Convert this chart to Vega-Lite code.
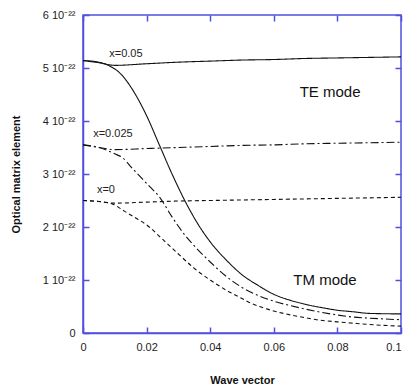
{
  "$schema": "https://vega.github.io/schema/vega-lite/v6.json",
  "width": 318,
  "height": 318,
  "autosize": "none",
  "padding": {"left": 83, "top": 15, "right": 6, "bottom": 58},
  "background": "white",
  "config": {
    "font": "Liberation Sans",
    "view": {"stroke": "#5050e0", "strokeWidth": 1.5},
    "axis": {
      "grid": false,
      "domainColor": "#5050e0",
      "domainWidth": 1.5,
      "tickColor": "#5050e0",
      "tickWidth": 1.5,
      "tickSize": -6,
      "labelFont": "Liberation Sans",
      "labelFontSize": 11,
      "labelColor": "#222",
      "labelPadding": 14,
      "titleFont": "Liberation Sans",
      "titleFontSize": 11,
      "titleFontWeight": "bold",
      "titleColor": "#111"
    }
  },
  "datasets": {
    "curves": [
      {"curve": "TE 0.05", "x": "0.05", "k": 0, "v": 5.14},
      {"curve": "TE 0.05", "x": "0.05", "k": 0.005, "v": 5.1},
      {"curve": "TE 0.05", "x": "0.05", "k": 0.01, "v": 5.05},
      {"curve": "TE 0.05", "x": "0.05", "k": 0.02, "v": 5.08},
      {"curve": "TE 0.05", "x": "0.05", "k": 0.03, "v": 5.11},
      {"curve": "TE 0.05", "x": "0.05", "k": 0.04, "v": 5.13},
      {"curve": "TE 0.05", "x": "0.05", "k": 0.05, "v": 5.15},
      {"curve": "TE 0.05", "x": "0.05", "k": 0.06, "v": 5.16},
      {"curve": "TE 0.05", "x": "0.05", "k": 0.07, "v": 5.18},
      {"curve": "TE 0.05", "x": "0.05", "k": 0.08, "v": 5.19},
      {"curve": "TE 0.05", "x": "0.05", "k": 0.09, "v": 5.2},
      {"curve": "TE 0.05", "x": "0.05", "k": 0.1, "v": 5.21},

      {"curve": "TM 0.05", "x": "0.05", "k": 0, "v": 5.14},
      {"curve": "TM 0.05", "x": "0.05", "k": 0.004, "v": 5.12},
      {"curve": "TM 0.05", "x": "0.05", "k": 0.008, "v": 5.05},
      {"curve": "TM 0.05", "x": "0.05", "k": 0.012, "v": 4.88},
      {"curve": "TM 0.05", "x": "0.05", "k": 0.016, "v": 4.55},
      {"curve": "TM 0.05", "x": "0.05", "k": 0.02, "v": 4.1},
      {"curve": "TM 0.05", "x": "0.05", "k": 0.024, "v": 3.55},
      {"curve": "TM 0.05", "x": "0.05", "k": 0.028, "v": 3.0},
      {"curve": "TM 0.05", "x": "0.05", "k": 0.032, "v": 2.5},
      {"curve": "TM 0.05", "x": "0.05", "k": 0.036, "v": 2.07},
      {"curve": "TM 0.05", "x": "0.05", "k": 0.04, "v": 1.72},
      {"curve": "TM 0.05", "x": "0.05", "k": 0.045, "v": 1.38},
      {"curve": "TM 0.05", "x": "0.05", "k": 0.05, "v": 1.1},
      {"curve": "TM 0.05", "x": "0.05", "k": 0.055, "v": 0.9},
      {"curve": "TM 0.05", "x": "0.05", "k": 0.06, "v": 0.73},
      {"curve": "TM 0.05", "x": "0.05", "k": 0.065, "v": 0.62},
      {"curve": "TM 0.05", "x": "0.05", "k": 0.07, "v": 0.54},
      {"curve": "TM 0.05", "x": "0.05", "k": 0.075, "v": 0.48},
      {"curve": "TM 0.05", "x": "0.05", "k": 0.08, "v": 0.43},
      {"curve": "TM 0.05", "x": "0.05", "k": 0.085, "v": 0.4},
      {"curve": "TM 0.05", "x": "0.05", "k": 0.09, "v": 0.37},
      {"curve": "TM 0.05", "x": "0.05", "k": 0.1, "v": 0.36},

      {"curve": "TE 0.025", "x": "0.025", "k": 0, "v": 3.55},
      {"curve": "TE 0.025", "x": "0.025", "k": 0.005, "v": 3.5},
      {"curve": "TE 0.025", "x": "0.025", "k": 0.01, "v": 3.46},
      {"curve": "TE 0.025", "x": "0.025", "k": 0.02, "v": 3.48},
      {"curve": "TE 0.025", "x": "0.025", "k": 0.03, "v": 3.5},
      {"curve": "TE 0.025", "x": "0.025", "k": 0.04, "v": 3.52},
      {"curve": "TE 0.025", "x": "0.025", "k": 0.05, "v": 3.54},
      {"curve": "TE 0.025", "x": "0.025", "k": 0.06, "v": 3.55},
      {"curve": "TE 0.025", "x": "0.025", "k": 0.07, "v": 3.57},
      {"curve": "TE 0.025", "x": "0.025", "k": 0.08, "v": 3.58},
      {"curve": "TE 0.025", "x": "0.025", "k": 0.09, "v": 3.59},
      {"curve": "TE 0.025", "x": "0.025", "k": 0.1, "v": 3.6},

      {"curve": "TM 0.025", "x": "0.025", "k": 0, "v": 3.55},
      {"curve": "TM 0.025", "x": "0.025", "k": 0.005, "v": 3.5},
      {"curve": "TM 0.025", "x": "0.025", "k": 0.01, "v": 3.38},
      {"curve": "TM 0.025", "x": "0.025", "k": 0.0126, "v": 3.3},
      {"curve": "TM 0.025", "x": "0.025", "k": 0.015, "v": 3.14},
      {"curve": "TM 0.025", "x": "0.025", "k": 0.018, "v": 2.95},
      {"curve": "TM 0.025", "x": "0.025", "k": 0.021, "v": 2.76},
      {"curve": "TM 0.025", "x": "0.025", "k": 0.024, "v": 2.57},
      {"curve": "TM 0.025", "x": "0.025", "k": 0.028, "v": 2.19},
      {"curve": "TM 0.025", "x": "0.025", "k": 0.032, "v": 1.85},
      {"curve": "TM 0.025", "x": "0.025", "k": 0.036, "v": 1.58},
      {"curve": "TM 0.025", "x": "0.025", "k": 0.04, "v": 1.34},
      {"curve": "TM 0.025", "x": "0.025", "k": 0.045, "v": 1.07},
      {"curve": "TM 0.025", "x": "0.025", "k": 0.05, "v": 0.86},
      {"curve": "TM 0.025", "x": "0.025", "k": 0.055, "v": 0.71},
      {"curve": "TM 0.025", "x": "0.025", "k": 0.06, "v": 0.6},
      {"curve": "TM 0.025", "x": "0.025", "k": 0.065, "v": 0.52},
      {"curve": "TM 0.025", "x": "0.025", "k": 0.07, "v": 0.45},
      {"curve": "TM 0.025", "x": "0.025", "k": 0.075, "v": 0.39},
      {"curve": "TM 0.025", "x": "0.025", "k": 0.08, "v": 0.34},
      {"curve": "TM 0.025", "x": "0.025", "k": 0.085, "v": 0.3},
      {"curve": "TM 0.025", "x": "0.025", "k": 0.09, "v": 0.28},
      {"curve": "TM 0.025", "x": "0.025", "k": 0.1, "v": 0.25},

      {"curve": "TE 0", "x": "0", "k": 0, "v": 2.5},
      {"curve": "TE 0", "x": "0", "k": 0.005, "v": 2.48},
      {"curve": "TE 0", "x": "0", "k": 0.01, "v": 2.45},
      {"curve": "TE 0", "x": "0", "k": 0.02, "v": 2.47},
      {"curve": "TE 0", "x": "0", "k": 0.03, "v": 2.49},
      {"curve": "TE 0", "x": "0", "k": 0.04, "v": 2.5},
      {"curve": "TE 0", "x": "0", "k": 0.05, "v": 2.51},
      {"curve": "TE 0", "x": "0", "k": 0.06, "v": 2.52},
      {"curve": "TE 0", "x": "0", "k": 0.07, "v": 2.53},
      {"curve": "TE 0", "x": "0", "k": 0.08, "v": 2.54},
      {"curve": "TE 0", "x": "0", "k": 0.09, "v": 2.55},
      {"curve": "TE 0", "x": "0", "k": 0.1, "v": 2.56},

      {"curve": "TM 0", "x": "0", "k": 0, "v": 2.5},
      {"curve": "TM 0", "x": "0", "k": 0.005, "v": 2.48},
      {"curve": "TM 0", "x": "0", "k": 0.0094, "v": 2.43},
      {"curve": "TM 0", "x": "0", "k": 0.013, "v": 2.3},
      {"curve": "TM 0", "x": "0", "k": 0.016, "v": 2.19},
      {"curve": "TM 0", "x": "0", "k": 0.02, "v": 2.04},
      {"curve": "TM 0", "x": "0", "k": 0.025, "v": 1.77},
      {"curve": "TM 0", "x": "0", "k": 0.03, "v": 1.49},
      {"curve": "TM 0", "x": "0", "k": 0.035, "v": 1.22},
      {"curve": "TM 0", "x": "0", "k": 0.04, "v": 1.0},
      {"curve": "TM 0", "x": "0", "k": 0.045, "v": 0.81},
      {"curve": "TM 0", "x": "0", "k": 0.05, "v": 0.65},
      {"curve": "TM 0", "x": "0", "k": 0.0525, "v": 0.57},
      {"curve": "TM 0", "x": "0", "k": 0.058, "v": 0.45},
      {"curve": "TM 0", "x": "0", "k": 0.063, "v": 0.37},
      {"curve": "TM 0", "x": "0", "k": 0.068, "v": 0.31},
      {"curve": "TM 0", "x": "0", "k": 0.0735, "v": 0.25},
      {"curve": "TM 0", "x": "0", "k": 0.08, "v": 0.21},
      {"curve": "TM 0", "x": "0", "k": 0.084, "v": 0.19},
      {"curve": "TM 0", "x": "0", "k": 0.09, "v": 0.16},
      {"curve": "TM 0", "x": "0", "k": 0.1, "v": 0.13}
    ],
    "curveLabels": [
      {"k": 0.0135, "v": 5.26, "text": "x=0.05"},
      {"k": 0.0094, "v": 3.75, "text": "x=0.025"},
      {"k": 0.0072, "v": 2.7, "text": "x=0"}
    ],
    "modeLabels": [
      {"k": 0.0777, "v": 4.55, "text": "TE mode"},
      {"k": 0.0761, "v": 1.0, "text": "TM mode"}
    ]
  },
  "layer": [
    {
      "data": {"name": "curves"},
      "mark": {"type": "line", "color": "#111", "strokeWidth": 1.1, "clip": true, "interpolate": "monotone"},
      "encoding": {
        "x": {
          "field": "k", "type": "quantitative",
          "scale": {"domain": [0, 0.1], "nice": false, "zero": false},
          "axis": {
            "orient": "bottom", "title": "Wave vector",
            "values": [0, 0.02, 0.04, 0.06, 0.08, 0.1],
            "labelExpr": "format(datum.value, '~g')",
            "labelAlign": {"condition": {"test": "datum.value >= 0.1", "value": "right"}, "value": "center"},
            "titlePadding": 22,
            "labelFlush": false
          }
        },
        "y": {
          "field": "v", "type": "quantitative",
          "scale": {"domain": [0, 6], "nice": false},
          "axis": {
            "orient": "left", "title": "Optical matrix element",
            "values": [0, 1, 2, 3, 4, 5, 6],
            "labelExpr": "datum.value == 0 ? '0' : datum.value + ' 10⁻²²'",
            "titlePadding": 21
          }
        },
        "detail": {"field": "curve"},
        "strokeDash": {
          "field": "x", "type": "nominal",
          "scale": {"domain": ["0.05", "0.025", "0"], "range": [[1, 0], [8, 3, 2, 3], [4, 3]]},
          "legend": null
        }
      }
    },
    {
      "data": {"name": "modeLabels"},
      "mark": {"type": "text", "fontSize": 15, "font": "Liberation Sans", "color": "#111", "align": "center", "baseline": "middle"},
      "encoding": {
        "x": {"field": "k", "type": "quantitative", "axis": {"orient": "top", "labels": false, "title": null, "values": [0, 0.02, 0.04, 0.06, 0.08, 0.1], "domain": false}},
        "y": {"field": "v", "type": "quantitative", "axis": {"orient": "right", "labels": false, "title": null, "values": [0, 1, 2, 3, 4, 5, 6], "domain": false}},
        "text": {"field": "text"}
      }
    },
    {
      "data": {"name": "curveLabels"},
      "mark": {"type": "text", "fontSize": 11, "font": "Liberation Sans", "color": "#222", "align": "center", "baseline": "middle"},
      "encoding": {
        "x": {"field": "k", "type": "quantitative", "axis": null},
        "y": {"field": "v", "type": "quantitative", "axis": null},
        "text": {"field": "text"}
      }
    }
  ],
  "resolve": {"axis": {"x": "independent", "y": "independent"}}
}
